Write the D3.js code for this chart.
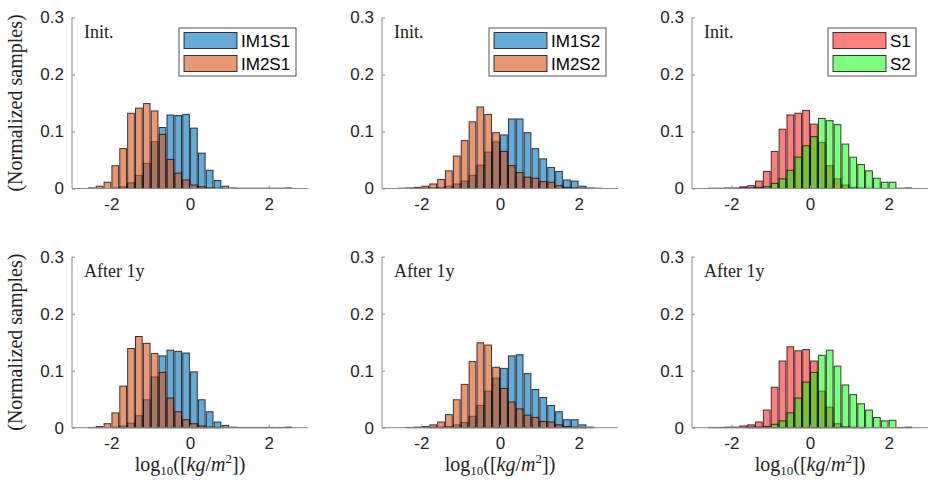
<!DOCTYPE html>
<html><head><meta charset="utf-8">
<script src="https://cdn.jsdelivr.net/npm/d3@7"></script>
<style>body{margin:0;background:#fff} svg{display:block}</style>
</head><body><svg id="c" width="928" height="485"></svg>
<script>
// ---- data ----
const binCenters = [-2.5,-2.3,-2.1,-1.9,-1.7,-1.5,-1.3,-1.1,-0.9,-0.7,-0.5,-0.3,-0.1,0.1,0.3,0.5,0.7,0.9,1.1,1.3,1.5,1.7,1.9,2.1,2.3,2.5];
const rowLabels = ["Init.", "After 1y"];
const legendNames = [["IM1S1","IM2S1"],["IM1S2","IM2S2"],["S1","S2"]];
const xTicks = [-2, 0, 2];
const xTickLabels = ["-2", "0", "2"];
const yTicks = [0, 0.1, 0.2, 0.3];
const yTickLabels = ["0", "0.1", "0.2", "0.3"];

// Init.
const im1s1Init = [0,0,0,0.001,0.003,0.010,0.023,0.044,0.082,0.107,0.129,0.128,0.130,0.106,0.062,0.032,0.014,0.004,0.001,0.0005,0.0005,0.0005,0.0005,0.0005,0.0005,0.001];
const im2s1Init = [0.001,0.004,0.011,0.040,0.070,0.132,0.141,0.149,0.136,0.095,0.051,0.027,0.015,0.006,0.003,0.001,0.0005,0,0,0,0,0,0,0,0,0];
const im1s2Init = [0,0,0,0.001,0.001,0.002,0.004,0.008,0.013,0.023,0.041,0.064,0.082,0.094,0.122,0.122,0.098,0.070,0.052,0.037,0.030,0.015,0.013,0.004,0.001,0.0005];
const im2s2Init = [0.0005,0.001,0.002,0.004,0.008,0.016,0.031,0.057,0.084,0.117,0.143,0.130,0.098,0.065,0.040,0.028,0.020,0.018,0.012,0.011,0.005,0.002,0.001,0.0005,0,0];
const s1Init = [0.0005,0.0005,0.001,0.001,0.003,0.005,0.013,0.030,0.065,0.104,0.129,0.132,0.137,0.113,0.081,0.040,0.017,0.006,0.002,0.001,0.0005,0,0,0,0,0.001];
const s2Init = [0,0,0,0,0.001,0.001,0.002,0.003,0.009,0.017,0.032,0.055,0.075,0.091,0.123,0.119,0.112,0.078,0.055,0.042,0.031,0.018,0.011,0.011,0.0005,0];
// After 1y
const im1s1After = [0,0,0,0.001,0.003,0.008,0.021,0.049,0.089,0.126,0.136,0.134,0.131,0.098,0.049,0.028,0.010,0.004,0.001,0.0005,0.0005,0.0005,0.0005,0.0005,0.0005,0.001];
const im2s1After = [0.0005,0.002,0.007,0.026,0.073,0.139,0.160,0.148,0.130,0.097,0.052,0.028,0.014,0.007,0.003,0.001,0.0005,0,0,0,0,0,0,0,0,0];
const im1s2After = [0,0,0,0,0.001,0.001,0.002,0.005,0.009,0.020,0.039,0.064,0.087,0.104,0.126,0.128,0.095,0.067,0.053,0.039,0.028,0.014,0.014,0.005,0.001,0];
const im2s2After = [0,0.0005,0.001,0.002,0.005,0.010,0.023,0.049,0.076,0.116,0.149,0.145,0.106,0.069,0.045,0.033,0.022,0.018,0.011,0.010,0.005,0.002,0.001,0.0005,0,0];
const s1After = [0.0005,0.0005,0.001,0.001,0.003,0.005,0.010,0.031,0.071,0.117,0.142,0.135,0.137,0.117,0.064,0.036,0.007,0.002,0.001,0.0005,0,0,0,0,0,0.001];
const s2After = [0,0,0,0,0,0.001,0.001,0.002,0.006,0.012,0.026,0.052,0.080,0.097,0.127,0.136,0.108,0.075,0.058,0.042,0.031,0.018,0.012,0.013,0.0005,0];

const panels = [
  {row:0,col:0,a:im1s1Init,b:im2s1Init},
  {row:0,col:1,a:im1s2Init,b:im2s2Init},
  {row:0,col:2,a:s1Init,b:s2Init},
  {row:1,col:0,a:im1s1After,b:im2s1After},
  {row:1,col:1,a:im1s2After,b:im2s2After},
  {row:1,col:2,a:s1After,b:s2After}
];
const colorsA = ["#0072BD","#0072BD","#FF0000"];
const colorsB = ["#D95319","#D95319","#00FF00"];
const alphas = [0.6,0.6,0.5];

// ---- layout ----
const svg = d3.select("#c");
const colX0 = [72, 382, 692];
const axW = 236;
const rowTop = [17.5, 256.7];
const axH = 171;
const binW = 0.2, barFrac = 0.85;
const serif = "'Liberation Serif', 'Times New Roman', serif";
const sans = "'Liberation Sans', Arial, Helvetica, sans-serif";
const axisColor = "#8a8a8a";
const textColor = "#262626";

panels.forEach(p => {
  const x0 = colX0[p.col], y0 = rowTop[p.row];
  const x = d3.scaleLinear().domain([-3, 3]).range([x0, x0 + axW]);
  const y = d3.scaleLinear().domain([0, 0.3]).range([y0 + axH, y0]);
  const g = svg.append("g");

  [[p.a, colorsA[p.col]], [p.b, colorsB[p.col]]].forEach(([vals, col]) => {
    g.append("g").selectAll("rect").data(binCenters).join("rect")
      .attr("x", (c) => x(c - binW * barFrac / 2))
      .attr("width", (c) => x(c + binW * barFrac / 2) - x(c - binW * barFrac / 2))
      .attr("y", (c, i) => y(vals[i]))
      .attr("height", (c, i) => y(0) - y(vals[i]))
      .attr("fill", col).attr("fill-opacity", alphas[p.col])
      .attr("stroke", "#000").attr("stroke-opacity", 0.75).attr("stroke-width", 1);
  });

  // axes
  const xAxis = d3.axisBottom(x).tickValues(xTicks).tickFormat((d, i) => xTickLabels[i]).tickSize(-3).tickPadding(9);
  const gx = g.append("g").attr("transform", `translate(0,${y(0)})`).call(xAxis);
  const yAxis = d3.axisLeft(y).tickValues(yTicks).tickFormat((d, i) => yTickLabels[i]).tickSize(-3).tickPadding(8);
  const gy = g.append("g").attr("transform", `translate(${x0},0)`).call(yAxis);
  [gx, gy].forEach(a => {
    a.select(".domain").attr("stroke", axisColor).attr("stroke-width", 1);
    a.selectAll(".tick line").attr("stroke", axisColor);
    a.selectAll(".tick text").attr("fill", textColor).style("font-family", sans).style("font-size", "17px");
  });
  gy.select(".domain").attr("d", `M0,${y(0)}V${y(0.3)}`);
  gx.select(".domain").attr("d", `M${x0},0H${x0 + axW}`);

  // annotation
  g.append("text").attr("x", x0 + 12).attr("y", y0 + 20.5)
    .style("font-family", serif).style("font-size", "18px").attr("fill", "#222")
    .text(rowLabels[p.row]);

  // legend (top row only)
  if (p.row === 0) {
    const names = legendNames[p.col];
    const lw = p.col === 2 ? 88 : 117;
    const lr = x0 + 224, lt = y0 + 10.5;
    const lg = g.append("g");
    lg.append("rect").attr("x", lr - lw).attr("y", lt).attr("width", lw).attr("height", 48)
      .attr("fill", "#fff").attr("stroke", "#555").attr("stroke-width", 1);
    [colorsA[p.col], colorsB[p.col]].forEach((col, i) => {
      const cy = lt + 12.5 + i * 23;
      lg.append("rect").attr("x", lr - lw + 5).attr("y", cy - 8).attr("width", 53).attr("height", 16)
        .attr("fill", col).attr("fill-opacity", alphas[p.col])
        .attr("stroke", "#000").attr("stroke-opacity", 0.75);
      lg.append("text").attr("x", lr - lw + 62).attr("y", cy + 6)
        .style("font-family", sans).style("font-size", "17px").attr("fill", "#000")
        .text(names[i]);
    });
  }

  // y label (left column)
  if (p.col === 0) {
    svg.append("text")
      .attr("transform", `translate(22,${y0 + axH / 2}) rotate(-90)`)
      .attr("text-anchor", "middle")
      .style("font-family", serif).style("font-size", "20px").attr("fill", "#222")
      .text("(Normalized samples)");
  }
  // x label (bottom row)
  if (p.row === 1) {
    const t = svg.append("text").attr("x", x0 + axW / 2).attr("y", 471)
      .attr("text-anchor", "middle")
      .style("font-family", serif).style("font-size", "20px").attr("fill", "#222");
    t.append("tspan").text("log");
    t.append("tspan").attr("dy", 4).style("font-size", "13px").text("10");
    t.append("tspan").attr("dy", -4).text("([");
    t.append("tspan").style("font-style", "italic").text("kg");
    t.append("tspan").text("/");
    t.append("tspan").style("font-style", "italic").text("m");
    t.append("tspan").attr("dy", -8).style("font-size", "13px").text("2");
    t.append("tspan").attr("dy", 8).text("])");
  }
});
</script>
</body></html>
